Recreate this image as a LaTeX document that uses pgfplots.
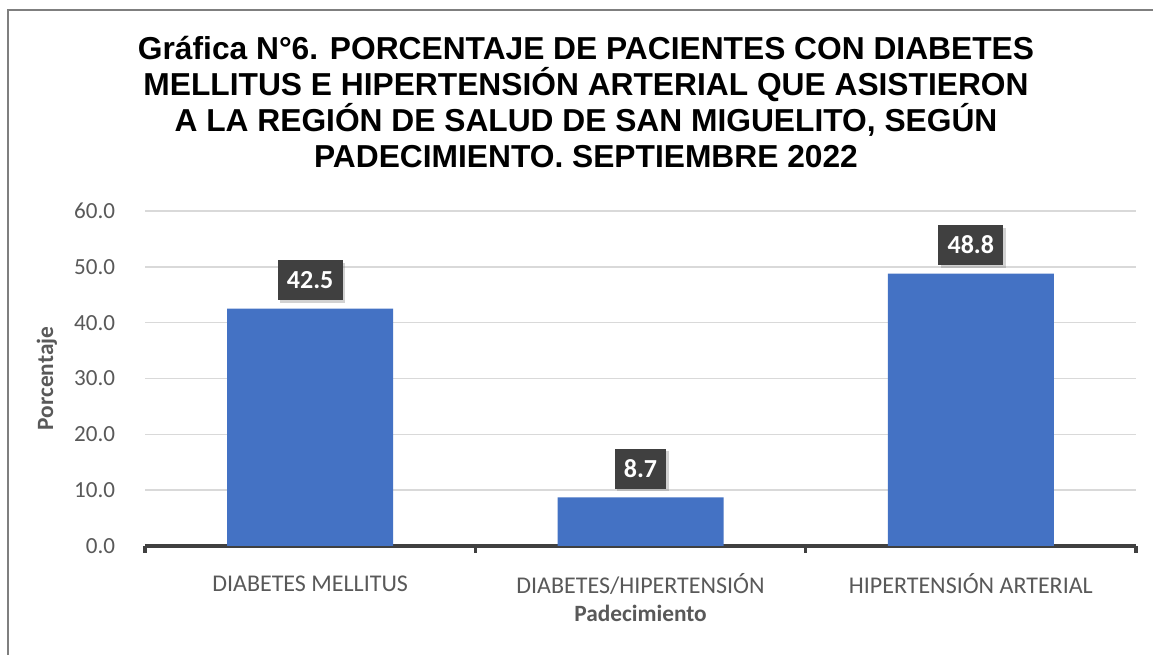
\documentclass[border=0pt]{standalone}
\usepackage{pgfplots}
\pgfplotsset{compat=1.18}
\usepackage{fontspec}
\setmainfont{Carlito}
\newfontfamily\titlefont{Liberation Sans}
\usetikzlibrary{shadows}
\definecolor{barblue}{HTML}{4472C4}
\definecolor{txtgray}{HTML}{595959}
\definecolor{darkgray}{HTML}{404040}
\definecolor{gridgray}{HTML}{D9D9D9}
\definecolor{framegray}{HTML}{7F7F7F}
\begin{document}
\begin{tikzpicture}
\useasboundingbox (0,0) rectangle (864.75pt,491.25pt);
\fill[white] (0,0) rectangle (864.75pt,491.25pt);
\draw[framegray, line width=1.2pt] (6pt,0) -- (6pt,483.75pt) -- (864.75pt,483.75pt);
\node[align=center, font=\titlefont\bfseries\fontsize{23.8}{27}\selectfont, text=black] at (439.5pt,414.4pt)
{Gráfica N°6. PORCENTAJE DE PACIENTES CON DIABETES\\MELLITUS E HIPERTENSIÓN ARTERIAL QUE ASISTIERON\\A LA REGIÓN DE SALUD DE SAN MIGUELITO, SEGÚN\\PADECIMIENTO. SEPTIEMBRE 2022};
\begin{axis}[
  at={(108.75pt,81.75pt)}, anchor=south west,
  scale only axis, width=743.25pt, height=251.25pt,
  xmin=-0.5, xmax=2.5, ymin=0, ymax=60,
  ytick={0,10,20,30,40,50,60},
  xtick={0,1,2},
  xticklabels={DIABETES MELLITUS, DIABETES/HIPERTENSIÓN, HIPERTENSIÓN ARTERIAL},
  minor xtick={-0.5,0.5,1.5,2.5},
  axis x line*=bottom,
  axis y line*=left,
  y axis line style={draw=none},
  x axis line style={darkgray, line width=2.5pt},
  major x tick style={draw=none},
  minor x tick style={darkgray, line width=2.5pt},
  minor tick length=5pt,
  tick align=outside,
  ytick style={draw=none},
  ymajorgrids,
  major grid style={gridgray, line width=1.1pt},
  /pgf/number format/assume math mode=true,
  yticklabel={\pgfmathprintnumber[fixed,fixed zerofill,precision=1]{\tick}},
  yticklabel style={anchor=east, inner sep=0pt, xshift=-18pt, font=\fontsize{17.3}{20}\selectfont, text=txtgray},
  xticklabel style={anchor=center, yshift=-24pt, font=\fontsize{18}{20}\selectfont, text=txtgray},
  xlabel={Padecimiento},
  ylabel={Porcentaje},
  every axis x label/.style={at={(rel axis cs:0.5,0)}, anchor=center, yshift=-50.25pt, font=\bfseries\fontsize{17.5}{20}\selectfont, text=txtgray},
  every axis y label/.style={at={(rel axis cs:0,0.5)}, xshift=-73.5pt, rotate=90, anchor=center, font=\bfseries\fontsize{17.5}{20}\selectfont, text=txtgray},
  ybar, bar width=124.5pt,
  nodes near coords={\pgfmathprintnumber[fixed,fixed zerofill,precision=1]{\pgfplotspointmeta}},
  nodes near coords style={anchor=center, yshift=21.5pt, fill=darkgray, text=white, font=\bfseries\fontsize{19.5}{22}\selectfont, inner xsep=7pt, minimum height=30pt, drop shadow={opacity=0.35, shadow xshift=2pt, shadow yshift=-2pt}},
  clip=false,
]
\addplot[fill=barblue, draw=none] coordinates {(0,42.5) (1,8.7) (2,48.8)};
\end{axis}
\end{tikzpicture}
\end{document}
